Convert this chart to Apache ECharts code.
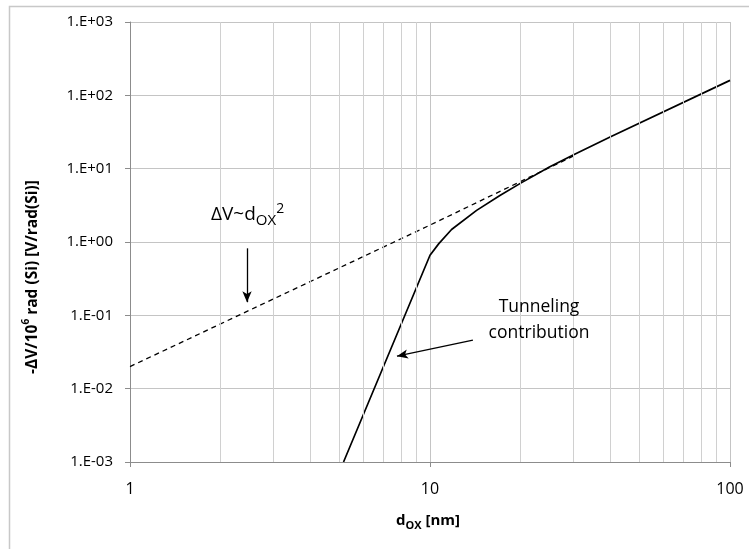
<!DOCTYPE html>
<html>
<head>
<meta charset="utf-8">
<script src="https://cdn.jsdelivr.net/npm/echarts@6/dist/echarts.min.js"></script>
<style>html,body{margin:0;padding:0;background:#fff;}#c{width:749px;height:549px;}</style>
</head>
<body>
<div id="c"></div>
<script>
// ---- data ----
const xTickLabels = ['1', '10', '100'];
const yTickLabels = ['1.E-03', '1.E-02', '1.E-01', '1.E+00', '1.E+01', '1.E+02', '1.E+03'];
const minorX = [2, 3, 4, 5, 6, 7, 8, 9, 20, 30, 40, 50, 60, 70, 80, 90];

const tunnelX = [5.15, 10, 10.7, 11.8, 14.3, 17.1, 20, 25, 30, 40, 100];
const tunnelY = [0.001, 0.66, 0.95, 1.48, 2.7, 4.3, 6.3, 10.5, 15.4, 27.3, 160];

const squareX = [1, 10, 30];
const squareY = [0.02, 1.7, 14.8];

const arrow1 = [[2.455, 0.82], [2.455, 0.151]];
const arrow2 = [[13.9, 0.0458], [7.76, 0.0277]];

const FONT = '"Open Sans", "Noto Sans", sans-serif';
const chart = echarts.init(document.getElementById('c'), null, {renderer: 'canvas'});

const pair = (xs, ys) => xs.map((x, i) => [x, ys[i]]);
const arrowLine = a => [{coord: a[0], symbol: 'none'}, {coord: a[1], symbol: 'arrow', symbolSize: [7, 11]}];

chart.setOption({
  animation: false,
  backgroundColor: '#fff',
  grid: {left: 130, right: 19, top: 22, bottom: 87},
  xAxis: {
    type: 'log', logBase: 10, min: 1, max: 100,
    axisLine: {lineStyle: {color: '#8c8c8c', width: 1}},
    axisTick: {show: true, length: 5, lineStyle: {color: '#8c8c8c'}},
    axisLabel: {fontFamily: FONT, fontSize: 16, color: '#000', margin: 19,
      formatter: v => xTickLabels[Math.round(Math.log10(v))]},
    splitLine: {show: true, lineStyle: {color: '#c4c4c4', width: 1}}
  },
  yAxis: {
    type: 'log', logBase: 10, min: 0.001, max: 1000,
    axisLine: {show: true, lineStyle: {color: '#8c8c8c', width: 1}},
    axisTick: {show: true, length: 5, lineStyle: {color: '#8c8c8c'}},
    axisLabel: {fontFamily: FONT, fontSize: 15, color: '#000', margin: 17,
      formatter: v => yTickLabels[Math.round(Math.log10(v)) + 3]},
    splitLine: {show: true, lineStyle: {color: '#c4c4c4', width: 1}}
  },
  series: [
    {
      name: 'grid', type: 'line', data: [], z: 1, silent: true,
      markLine: {
        silent: true, symbol: 'none', animation: false,
        label: {show: false},
        lineStyle: {color: '#d0d0d0', type: 'solid', width: 1},
        data: minorX.map(v => ({xAxis: v}))
      }
    },
    {
      name: 'square', type: 'line', data: pair(squareX, squareY), z: 3,
      showSymbol: false, symbol: 'none',
      lineStyle: {color: '#000', width: 1.3, type: [5, 4]}
    },
    {
      name: 'tunnel', type: 'line', data: pair(tunnelX, tunnelY), z: 4,
      showSymbol: false, symbol: 'none',
      lineStyle: {color: '#000', width: 1.7},
      markLine: {
        silent: true, animation: false, label: {show: false},
        lineStyle: {color: '#000', type: 'solid', width: 1.3},
        data: [arrowLine(arrow1), arrowLine(arrow2)]
      }
    }
  ],
  graphic: [
    {type: 'rect', shape: {x: 9.5, y: 6.5, width: 760, height: 560}, silent: true,
     style: {fill: 'none', stroke: '#c8c8c8', lineWidth: 1.5}, z: 0},
    {type: 'text', x: 33, y: 277, rotation: Math.PI / 2, z: 10,
     style: {text: '-ΔV/10{sup|6} rad (Si) [V/rad(Si)]', fontFamily: FONT, fontWeight: 'bold', fontSize: 15.5,
       fill: '#000', align: 'center', verticalAlign: 'middle', lineHeight: 22,
       rich: {sup: {fontSize: 10, fontWeight: 'bold', fontFamily: FONT, fill: '#000', verticalAlign: 'top', lineHeight: 24}}}},
    {type: 'text', x: 428, y: 521, z: 10,
     style: {text: 'd{sub|OX} [nm]', fontFamily: FONT, fontWeight: 'bold', fontSize: 15,
       fill: '#000', align: 'center', verticalAlign: 'middle', lineHeight: 20,
       rich: {sub: {fontSize: 11, fontWeight: 'bold', fontFamily: FONT, fill: '#000', verticalAlign: 'bottom', lineHeight: 14}}}},
    {type: 'text', x: 211, y: 215, z: 10,
     style: {text: 'ΔV~d{sub|OX}{sup|2}', fontFamily: FONT, fontSize: 19,
       fill: '#000', align: 'left', verticalAlign: 'middle', lineHeight: 26,
       rich: {
         sub: {fontSize: 15, fontFamily: FONT, fill: '#000', verticalAlign: 'bottom', lineHeight: 18},
         sup: {fontSize: 14, fontFamily: FONT, fill: '#000', verticalAlign: 'top', lineHeight: 24}
       }}},
    {type: 'text', x: 539, y: 320, z: 10,
     style: {text: 'Tunneling\ncontribution', fontFamily: FONT, fontSize: 17.5,
       fill: '#000', align: 'center', verticalAlign: 'middle', lineHeight: 26}}
  ]
});
</script>
</body>
</html>
